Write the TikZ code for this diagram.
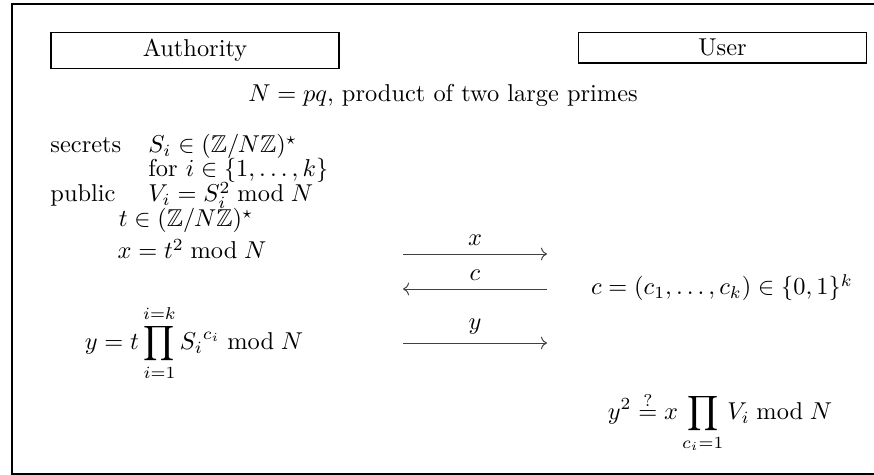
\documentclass[tikz,border=0pt]{standalone}
\usepackage{amsmath,amssymb}
\usepackage{tikz}
\usetikzlibrary{arrows.meta,positioning}

\begin{document}
\begin{tikzpicture}[x=0.41pt,y=-0.41pt,
      party/.style={draw,line width=0.6pt,anchor=north,
                    minimum width=118pt,inner ysep=2.7pt},
      msg/.style={->,line width=0.4pt,draw=black!75}]
      \useasboundingbox (0,0) rectangle (874,475);
      \draw[line width=0.6pt] (12,4) rectangle (890,474);
      % the two parties
      \node[party] (auth) at (195,32) {Authority};
      \node[party] (user) at (722.5,32) {User};
      \node[anchor=base] (modulus) at (443,102) {$N=pq$, product of two large primes};
      % keys of the authority
      \node[anchor=base west,inner sep=0] (secrets) at (50,153) {secrets};
      \node[anchor=base west,inner sep=0] (skeys) at (148,153) {$S_i\in(\mathbb{Z}/N\mathbb{Z})^\star$};
      \node[anchor=base west,inner sep=0] (range) at (148,177) {for $i\in\{1,\dots,k\}$};
      \node[anchor=base west,inner sep=0] (public) at (50,202) {public};
      \node[anchor=base west,inner sep=0] (vkeys) at (148,202) {$V_i=S_i^2 \bmod N$};
      \node[anchor=base,inner sep=0] (nonce) at (186,227) {$t\in(\mathbb{Z}/N\mathbb{Z})^\star$};
      \node[anchor=base,inner sep=0] (commit) at (192,259) {$x=t^2 \bmod N$};
      \node[anchor=base,inner sep=0] (answer) at (194,350) {$\displaystyle y=t\prod_{i=1}^{i=k}{S_i}^{c_i} \bmod N$};
      % user side
      \node[anchor=base,inner sep=0] (challenge) at (722,295) {$c=(c_1,\dots,c_k)\in\{0,1\}^k$};
      \node[anchor=base,inner sep=0] (check) at (720,420) {$\displaystyle y^2\stackrel{?}{=}x\prod_{c_i=1}V_i \bmod N$};
      % messages
      \coordinate (xs) at (403,254); \coordinate (xe) at (547,254);
      \coordinate (cs) at (547,289); \coordinate (ce) at (403,289);
      \coordinate (ys) at (403,343); \coordinate (ye) at (547,343);
      \draw[msg] (xs) -- node[above] {$x$} (xe);
      \draw[msg] (cs) -- node[above] {$c$} (ce);
      \draw[msg] (ys) -- node[above] {$y$} (ye);
    \end{tikzpicture}
\end{document}
